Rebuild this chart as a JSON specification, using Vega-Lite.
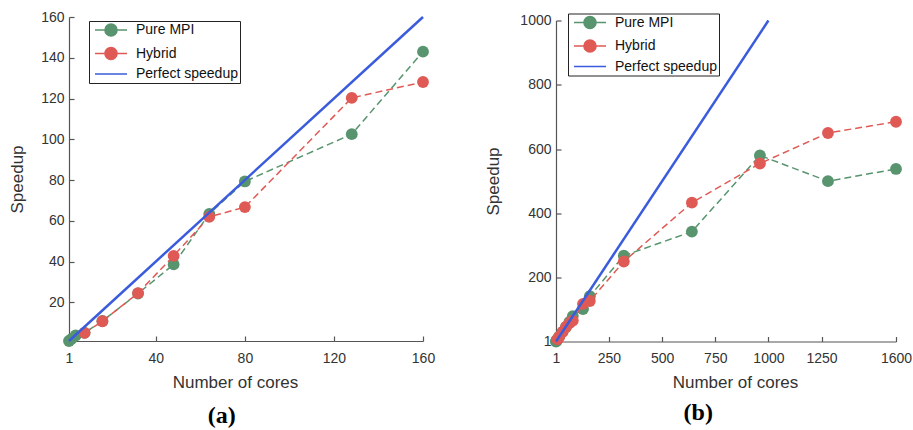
{
  "$schema": "https://vega.github.io/schema/vega-lite/v6.json",
  "padding": {"left": 8, "top": 10, "right": 5, "bottom": 0},
  "spacing": 49,
  "center": true,
  "background": "white",
  "config": {
    "view": {"stroke": null},
    "axis": {
      "domainColor": "#555555", "tickColor": "#555555", "labelColor": "#333333", "titleColor": "#333333",
      "labelFont": "Liberation Sans", "titleFont": "Liberation Sans", "labelFontSize": 14, "titleFontSize": 17,
      "titleFontWeight": "normal", "grid": false, "tickSize": -5, "labelFlush": false, "labelOverlap": false,
      "domainWidth": 1.2, "tickWidth": 1.2, "format": "d"
    },
    "axisX": {"labelPadding": 15, "titlePadding": 9},
    "axisY": {"labelPadding": 10, "titlePadding": 14},
    "legend": {
      "labelFont": "Liberation Sans", "labelFontSize": 14, "labelColor": "#111111", "strokeColor": "#222222",
      "fillColor": "white", "padding": 2, "rowPadding": 3.5, "symbolSize": 144, "symbolOffset": 13, "labelOffset": 18,
      "symbolStrokeWidth": 1.6, "symbolOpacity": 1
    }
  },
  "datasets": {
    "a": [
      {"series": "Pure MPI", "cores": 1, "speedup": 1},
      {"series": "Pure MPI", "cores": 2, "speedup": 1.9},
      {"series": "Pure MPI", "cores": 4, "speedup": 3.7},
      {"series": "Pure MPI", "cores": 8, "speedup": 5},
      {"series": "Pure MPI", "cores": 16, "speedup": 10.8},
      {"series": "Pure MPI", "cores": 32, "speedup": 24.3},
      {"series": "Pure MPI", "cores": 48, "speedup": 38.6},
      {"series": "Pure MPI", "cores": 64, "speedup": 63.4},
      {"series": "Pure MPI", "cores": 80, "speedup": 79.3},
      {"series": "Pure MPI", "cores": 128, "speedup": 102.5},
      {"series": "Pure MPI", "cores": 160, "speedup": 143},
      {"series": "Hybrid", "cores": 8, "speedup": 5},
      {"series": "Hybrid", "cores": 16, "speedup": 10.7},
      {"series": "Hybrid", "cores": 32, "speedup": 24.5},
      {"series": "Hybrid", "cores": 48, "speedup": 42.8},
      {"series": "Hybrid", "cores": 64, "speedup": 61.9},
      {"series": "Hybrid", "cores": 80, "speedup": 66.7},
      {"series": "Hybrid", "cores": 128, "speedup": 120.3},
      {"series": "Hybrid", "cores": 160, "speedup": 128.1}
    ],
    "aPerfect": [
      {"series": "Perfect speedup", "cores": 1, "speedup": 1},
      {"series": "Perfect speedup", "cores": 160, "speedup": 160}
    ],
    "b": [
      {"series": "Pure MPI", "cores": 1, "speedup": 1},
      {"series": "Pure MPI", "cores": 2, "speedup": 2},
      {"series": "Pure MPI", "cores": 4, "speedup": 4},
      {"series": "Pure MPI", "cores": 8, "speedup": 8},
      {"series": "Pure MPI", "cores": 16, "speedup": 16},
      {"series": "Pure MPI", "cores": 32, "speedup": 31},
      {"series": "Pure MPI", "cores": 48, "speedup": 46},
      {"series": "Pure MPI", "cores": 64, "speedup": 62},
      {"series": "Pure MPI", "cores": 80, "speedup": 80},
      {"series": "Pure MPI", "cores": 128, "speedup": 102},
      {"series": "Pure MPI", "cores": 160, "speedup": 142},
      {"series": "Pure MPI", "cores": 320, "speedup": 268},
      {"series": "Pure MPI", "cores": 640, "speedup": 343},
      {"series": "Pure MPI", "cores": 960, "speedup": 580},
      {"series": "Pure MPI", "cores": 1280, "speedup": 500},
      {"series": "Pure MPI", "cores": 1600, "speedup": 538},
      {"series": "Hybrid", "cores": 8, "speedup": 8},
      {"series": "Hybrid", "cores": 16, "speedup": 16},
      {"series": "Hybrid", "cores": 32, "speedup": 31},
      {"series": "Hybrid", "cores": 48, "speedup": 46},
      {"series": "Hybrid", "cores": 64, "speedup": 58},
      {"series": "Hybrid", "cores": 80, "speedup": 66},
      {"series": "Hybrid", "cores": 128, "speedup": 118},
      {"series": "Hybrid", "cores": 160, "speedup": 127},
      {"series": "Hybrid", "cores": 320, "speedup": 250},
      {"series": "Hybrid", "cores": 640, "speedup": 433},
      {"series": "Hybrid", "cores": 960, "speedup": 555},
      {"series": "Hybrid", "cores": 1280, "speedup": 650},
      {"series": "Hybrid", "cores": 1600, "speedup": 685}
    ],
    "bPerfect": [
      {"series": "Perfect speedup", "cores": 1, "speedup": 1},
      {"series": "Perfect speedup", "cores": 1000, "speedup": 1000}
    ]
  },
  "resolve": {
    "scale": {"fill": "independent", "stroke": "independent", "shape": "independent"},
    "legend": {"fill": "independent", "stroke": "independent", "shape": "independent"}
  },
  "hconcat": [
    {
      "width": 354,
      "height": 324,
      "title": {"text": "(a)", "orient": "bottom", "font": "Liberation Serif", "fontWeight": "bold", "fontSize": 24, "color": "black", "anchor": "middle", "frame": "bounds", "offset": 14},
      "encoding": {
        "x": {"field": "cores", "type": "quantitative", "title": "Number of cores",
              "scale": {"domain": [1, 160], "nice": false, "zero": false},
              "axis": {"values": [1, 40, 80, 120, 160], "titleX": 166}},
        "y": {"field": "speedup", "type": "quantitative", "title": "Speedup",
              "scale": {"domain": [1, 160], "nice": false, "zero": false},
              "axis": {"values": [20, 40, 60, 80, 100, 120, 140, 160]}}
      },
      "layer": [
        {"data": {"name": "a"}, "transform": [{"filter": "datum.series === 'Pure MPI'"}],
         "mark": {"type": "line", "color": "#58946e", "strokeDash": [7, 4], "strokeWidth": 1.5}},
        {"data": {"name": "a"}, "transform": [{"filter": "datum.series === 'Pure MPI'"}],
         "mark": {"type": "circle", "color": "#58946e", "size": 140, "opacity": 1}},
        {"data": {"name": "a"}, "transform": [{"filter": "datum.series === 'Hybrid'"}],
         "mark": {"type": "line", "color": "#e05a55", "strokeDash": [7, 4], "strokeWidth": 1.5}},
        {"data": {"name": "a"}, "transform": [{"filter": "datum.series === 'Hybrid'"}],
         "mark": {"type": "circle", "color": "#e05a55", "size": 140, "opacity": 1}},
        {"data": {"name": "aPerfect"}, "mark": {"type": "line", "color": "#3a5cdc", "strokeWidth": 2.5}},
        {"data": {"name": "a"}, "mark": {"type": "point", "filled": true, "opacity": 0, "size": 10},
         "encoding": {
           "fill": {"field": "series", "type": "nominal",
             "scale": {"domain": ["Pure MPI", "Hybrid", "Perfect speedup"], "range": ["#58946e", "#e05a55", "transparent"]},
             "legend": {"title": null, "orient": "none", "legendX": 20, "legendY": 4, "symbolOpacity": 1, "labelExpr": "datum.label + '\u00a0\u00a0\u00a0\u00a0\u00a0\u00a0\u00a0'"}},
           "stroke": {"field": "series", "type": "nominal",
             "scale": {"domain": ["Pure MPI", "Hybrid", "Perfect speedup"], "range": ["#58946e", "#e05a55", "#3a5cdc"]},
             "legend": {"title": null, "orient": "none", "legendX": 20, "legendY": 4, "symbolOpacity": 1, "labelExpr": "datum.label + '\u00a0\u00a0\u00a0\u00a0\u00a0\u00a0\u00a0'"}},
           "shape": {"field": "series", "type": "nominal",
             "scale": {"domain": ["Pure MPI", "Hybrid", "Perfect speedup"],
                       "range": ["M-2.667,0L2.667,0M-1,0A1,1 0 1,0 1,0A1,1 0 1,0 -1,0Z", "M-2.667,0L2.667,0M-1,0A1,1 0 1,0 1,0A1,1 0 1,0 -1,0Z", "M-2.667,0L2.667,0"]},
             "legend": {"title": null, "orient": "none", "legendX": 20, "legendY": 4, "symbolOpacity": 1, "labelExpr": "datum.label + '\u00a0\u00a0\u00a0\u00a0\u00a0\u00a0\u00a0'"}}
         }}
      ]
    },
    {
      "width": 340,
      "height": 321,
      "title": {"text": "(b)", "orient": "bottom", "font": "Liberation Serif", "fontWeight": "bold", "fontSize": 24, "color": "black", "anchor": "middle", "frame": "bounds", "offset": 10},
      "encoding": {
        "x": {"field": "cores", "type": "quantitative", "title": "Number of cores",
              "scale": {"domain": [1, 1600], "nice": false, "zero": false},
              "axis": {"values": [1, 250, 500, 750, 1000, 1250, 1600], "titleX": 179}},
        "y": {"field": "speedup", "type": "quantitative", "title": "Speedup",
              "scale": {"domain": [1, 1000], "nice": false, "zero": false},
              "axis": {"values": [1, 200, 400, 600, 800, 1000], "titlePadding": 17}}
      },
      "layer": [
        {"data": {"name": "b"}, "transform": [{"filter": "datum.series === 'Pure MPI'"}],
         "mark": {"type": "line", "color": "#58946e", "strokeDash": [7, 4], "strokeWidth": 1.5}},
        {"data": {"name": "b"}, "transform": [{"filter": "datum.series === 'Pure MPI'"}],
         "mark": {"type": "circle", "color": "#58946e", "size": 140, "opacity": 1}},
        {"data": {"name": "b"}, "transform": [{"filter": "datum.series === 'Hybrid'"}],
         "mark": {"type": "line", "color": "#e05a55", "strokeDash": [7, 4], "strokeWidth": 1.5}},
        {"data": {"name": "b"}, "transform": [{"filter": "datum.series === 'Hybrid'"}],
         "mark": {"type": "circle", "color": "#e05a55", "size": 140, "opacity": 1}},
        {"data": {"name": "bPerfect"}, "mark": {"type": "line", "color": "#3a5cdc", "strokeWidth": 2.5}},
        {"data": {"name": "b"}, "mark": {"type": "point", "filled": true, "opacity": 0, "size": 10},
         "encoding": {
           "fill": {"field": "series", "type": "nominal",
             "scale": {"domain": ["Pure MPI", "Hybrid", "Perfect speedup"], "range": ["#58946e", "#e05a55", "transparent"]},
             "legend": {"title": null, "orient": "none", "legendX": 12, "legendY": -7, "symbolOpacity": 1, "labelExpr": "datum.label + '\u00a0\u00a0\u00a0\u00a0\u00a0\u00a0\u00a0'"}},
           "stroke": {"field": "series", "type": "nominal",
             "scale": {"domain": ["Pure MPI", "Hybrid", "Perfect speedup"], "range": ["#58946e", "#e05a55", "#3a5cdc"]},
             "legend": {"title": null, "orient": "none", "legendX": 12, "legendY": -7, "symbolOpacity": 1, "labelExpr": "datum.label + '\u00a0\u00a0\u00a0\u00a0\u00a0\u00a0\u00a0'"}},
           "shape": {"field": "series", "type": "nominal",
             "scale": {"domain": ["Pure MPI", "Hybrid", "Perfect speedup"],
                       "range": ["M-2.667,0L2.667,0M-1,0A1,1 0 1,0 1,0A1,1 0 1,0 -1,0Z", "M-2.667,0L2.667,0M-1,0A1,1 0 1,0 1,0A1,1 0 1,0 -1,0Z", "M-2.667,0L2.667,0"]},
             "legend": {"title": null, "orient": "none", "legendX": 12, "legendY": -7, "symbolOpacity": 1, "labelExpr": "datum.label + '\u00a0\u00a0\u00a0\u00a0\u00a0\u00a0\u00a0'"}}
         }}
      ]
    }
  ]
}
